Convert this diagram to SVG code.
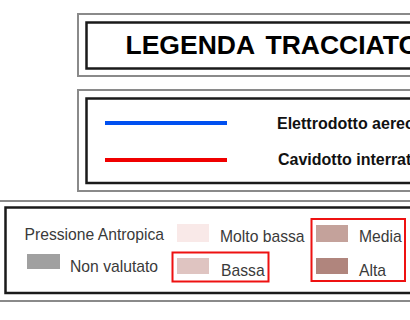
<svg xmlns="http://www.w3.org/2000/svg" width="410" height="320" viewBox="0 0 410 320">
<style>
.outer{fill:none;stroke:#8a8a8a;stroke-width:2}
.inner{fill:none;stroke:#1a1a1a;stroke-width:2.5}
.hl{fill:none;stroke:#ee1111;stroke-width:2}
.title{font-family:"Liberation Sans",Arial,sans-serif;font-weight:bold;font-size:26.5px;fill:#000;word-spacing:4px}
.bold{font-family:"Liberation Sans",Arial,sans-serif;font-weight:bold;font-size:16px;fill:#111}
.lbl{font-family:"Liberation Sans",Arial,sans-serif;font-size:15.7px;fill:#3a3a3a}
</style>
<rect width="410" height="320" fill="#fff"/>
<g id="title-box">
<rect class="outer" x="78" y="14" width="350" height="62"/>
<rect class="inner" x="86.5" y="22.5" width="340" height="46"/>
<text class="title" x="125.5" y="53.5">LEGENDA TRACCIATO</text>
</g>
<g id="tracciato-box">
<rect class="outer" x="78" y="90" width="350" height="101"/>
<rect class="inner" x="86.5" y="98.5" width="340" height="84.5"/>
</g>
<g id="connectors">
<line x1="105" y1="123" x2="227" y2="123" stroke="#0050f0" stroke-width="4"/>
<line x1="105" y1="160" x2="227" y2="160" stroke="#f00000" stroke-width="4"/>
</g>
<g id="elettrodotto">
<text class="bold" x="277" y="128.5">Elettrodotto aereo</text>
</g>
<g id="cavidotto">
<text class="bold" x="278" y="164.5">Cavidotto interrato</text>
</g>
<g id="pressione-box">
<rect class="outer" x="-5" y="201" width="430" height="100"/>
<rect class="inner" x="5.5" y="207.5" width="420" height="85.5"/>
<text class="lbl" x="24.5" y="240">Pressione Antropica</text>
</g>
<g id="non-valutato">
<rect x="27" y="254" width="33" height="15" fill="#a0a0a0"/>
<text class="lbl" x="70" y="272">Non valutato</text>
</g>
<g id="molto-bassa">
<rect x="177" y="224" width="32" height="18" fill="#f9e9e8"/>
<text class="lbl" x="220" y="241.5">Molto bassa</text>
</g>
<g id="bassa">
<rect class="hl" x="172.5" y="252.5" width="96" height="29"/>
<rect x="177" y="258" width="32" height="16" fill="#dfc4c1"/>
<text class="lbl" x="221" y="276">Bassa</text>
</g>
<g id="media-alta">
<rect class="hl" x="311.5" y="219" width="93.5" height="62"/>
<rect x="316" y="225" width="32" height="17" fill="#c4a29b"/>
<text class="lbl" x="359" y="241.5">Media</text>
<rect x="316" y="258" width="32" height="16" fill="#b0857d"/>
<text class="lbl" x="359" y="276">Alta</text>
</g>
</svg>
